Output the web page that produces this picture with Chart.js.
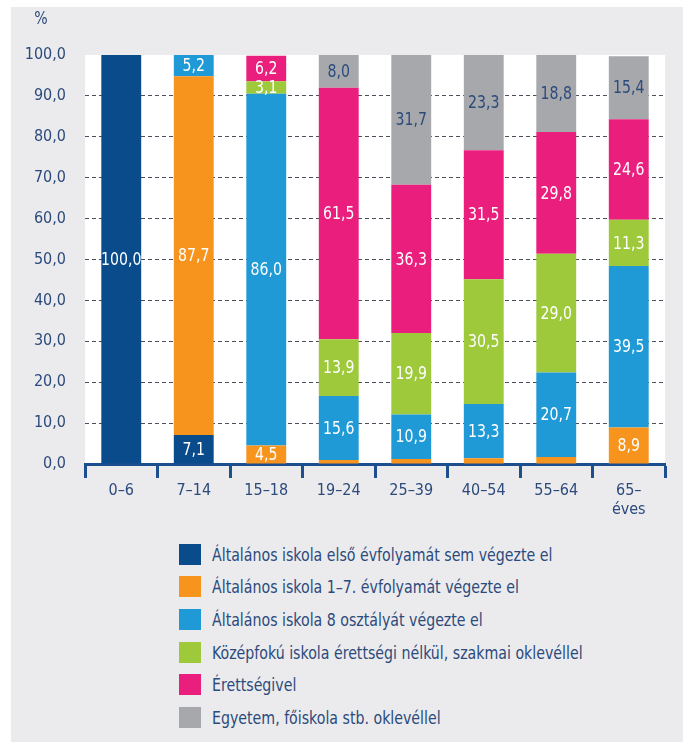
<!DOCTYPE html>
<html>
<head>
<meta charset="utf-8">
<script src="https://cdn.jsdelivr.net/npm/chart.js@4"></script>
<style>
  html, body { margin: 0; padding: 0; background: #fff; }
  #wrap { position: relative; width: 683px; height: 742px; overflow: hidden; }
  #panel { position: absolute; left: 11px; top: 7px; right: 0; bottom: 0; background: #ebebed; }
  #chartBox { position: absolute; left: 0; top: 0; width: 683px; height: 525px; }
  #legend { position: absolute; left: 179px; top: 538px; margin: 0; padding: 0; list-style: none;
    font-family: 'Liberation Sans Narrow', 'DejaVu Sans Condensed', sans-serif; font-size: 18px; color: #2c4a7c; }
  #legend li { height: 32.6px; display: flex; align-items: center; white-space: nowrap; }
  #legend span.box { display: inline-block; width: 22px; height: 21px; margin-right: 11px; flex: none; }
  #legend span.txt { display: inline-block; transform: scaleX(0.875); transform-origin: left center; }
</style>
</head>
<body>
<div id="wrap">
  <div id="panel"></div>
  <div id="chartBox"><canvas id="myChart"></canvas></div>
  <ul id="legend"></ul>
</div>
<script>
'use strict';

const categories = ['0–6', '7–14', '15–18', '19–24', '25–39', '40–54', '55–64', ['65–', 'éves']];

const seriesNames = [
  'Általános iskola első évfolyamát sem végezte el',
  'Általános iskola 1–7. évfolyamát végezte el',
  'Általános iskola 8 osztályát végezte el',
  'Középfokú iskola érettségi nélkül, szakmai oklevéllel',
  'Érettségivel',
  'Egyetem, főiskola stb. oklevéllel',
];

const noFirstGrade = [100.0, 7.1, 0, 0, 0, 0, 0, 0];
const grades1to7 = [0, 87.7, 4.5, 1.0, 1.2, 1.4, 1.7, 8.9];
const grade8 = [0, 5.2, 86.0, 15.6, 10.9, 13.3, 20.7, 39.5];
const vocational = [0, 0, 3.1, 13.9, 19.9, 30.5, 29.0, 11.3];
const maturity = [0, 0, 6.2, 61.5, 36.3, 31.5, 29.8, 24.6];
const degree = [0, 0, 0, 8.0, 31.7, 23.3, 18.8, 15.4];

const yTicks = [0, 10, 20, 30, 40, 50, 60, 70, 80, 90, 100];

const colors = ['#0a4b8c', '#f7941d', '#1f9ad6', '#9dc93b', '#ea1e7c', '#a6a8ab'];
const textBlue = '#2c4a7c';
const fontFamily = "'Liberation Sans Narrow', 'DejaVu Sans Condensed', sans-serif";

const allSeries = [noFirstGrade, grades1to7, grade8, vocational, maturity, degree];

const datasets = [];
for (let i = 0; i < allSeries.length; i++) {
  datasets.push({
    label: seriesNames[i],
    data: allSeries[i],
    backgroundColor: colors[i],
    borderWidth: 0,
    barPercentage: 0.55,
    categoryPercentage: 1.0,
  });
}

// draws narrow text by squeezing it horizontally
function narrowText(ctx, text, x, y) {
  ctx.save();
  ctx.translate(x, y);
  ctx.scale(0.87, 1);
  ctx.fillText(text, 0, 0);
  ctx.restore();
}

// white plot background + "%" unit above the y axis
const plotBackground = {
  id: 'plotBackground',
  beforeDraw(chart) {
    const ctx = chart.ctx;
    const a = chart.chartArea;
    ctx.save();
    ctx.fillStyle = '#ffffff';
    ctx.fillRect(a.left, a.top, a.right - a.left, a.bottom - a.top);
    ctx.fillStyle = textBlue;
    ctx.font = '18px ' + fontFamily;
    ctx.textAlign = 'center';
    ctx.textBaseline = 'middle';
    narrowText(ctx, '%', 41, 19);
    ctx.restore();
  }
};

// value labels inside the segments
const segmentLabels = {
  id: 'segmentLabels',
  afterDatasetsDraw(chart) {
    const ctx = chart.ctx;
    ctx.save();
    ctx.font = '18px ' + fontFamily;
    ctx.textAlign = 'center';
    ctx.textBaseline = 'middle';
    chart.data.datasets.forEach(function (ds, di) {
      const meta = chart.getDatasetMeta(di);
      meta.data.forEach(function (bar, i) {
        const v = ds.data[i];
        if (v < 3) return;
        ctx.fillStyle = di === 5 ? textBlue : '#ffffff';
        narrowText(ctx, v.toFixed(1).replace('.', ','), bar.x, (bar.y + bar.base) / 2 + 1);
      });
    });
    ctx.restore();
  }
};

new Chart(document.getElementById('myChart'), {
  type: 'bar',
  data: { labels: categories, datasets: datasets },
  options: {
    responsive: true,
    maintainAspectRatio: false,
    animation: false,
    layout: { padding: { top: 55, right: 18, left: 0, bottom: 0 } },
    plugins: { legend: { display: false }, tooltip: { enabled: false } },
    scales: {
      x: {
        stacked: true,
        afterFit(scale) { scale.height = 61; },
        border: { display: true, color: '#1d4f8f', width: 3 },
        grid: {
          offset: true,
          drawOnChartArea: false,
          drawTicks: true,
          tickLength: 14,
          tickWidth: 3,
          tickColor: '#1d4f8f',
        },
        ticks: { color: textBlue, font: { family: fontFamily, size: 16 }, padding: 3, maxRotation: 0 },
      },
      y: {
        stacked: true,
        min: 0,
        max: 100,
        afterFit(scale) { scale.width = 85; },
        afterBuildTicks(scale) { scale.ticks = yTicks.map(v => ({ value: v })); },
        border: { display: false, dash: [4, 3] },
        grid: {
          drawTicks: false,
          color: ctx => (ctx.tick && ctx.tick.value > 0 && ctx.tick.value < 100) ? '#4a4f5a' : 'rgba(0,0,0,0)',
          lineWidth: 1,
        },
        ticks: {
          color: textBlue,
          font: { family: fontFamily, size: 16 },
          padding: 19,
          callback: v => v.toFixed(1).replace('.', ','),
        },
      },
    },
  },
  plugins: [plotBackground, segmentLabels],
});

// legend, one entry per row
const legendElm = document.getElementById('legend');
for (let i = 0; i < seriesNames.length; i++) {
  const li = document.createElement('li');
  const box = document.createElement('span');
  box.className = 'box';
  box.style.background = colors[i];
  const txt = document.createElement('span');
  txt.className = 'txt';
  txt.textContent = seriesNames[i];
  li.appendChild(box);
  li.appendChild(txt);
  legendElm.appendChild(li);
}
</script>
</body>
</html>
